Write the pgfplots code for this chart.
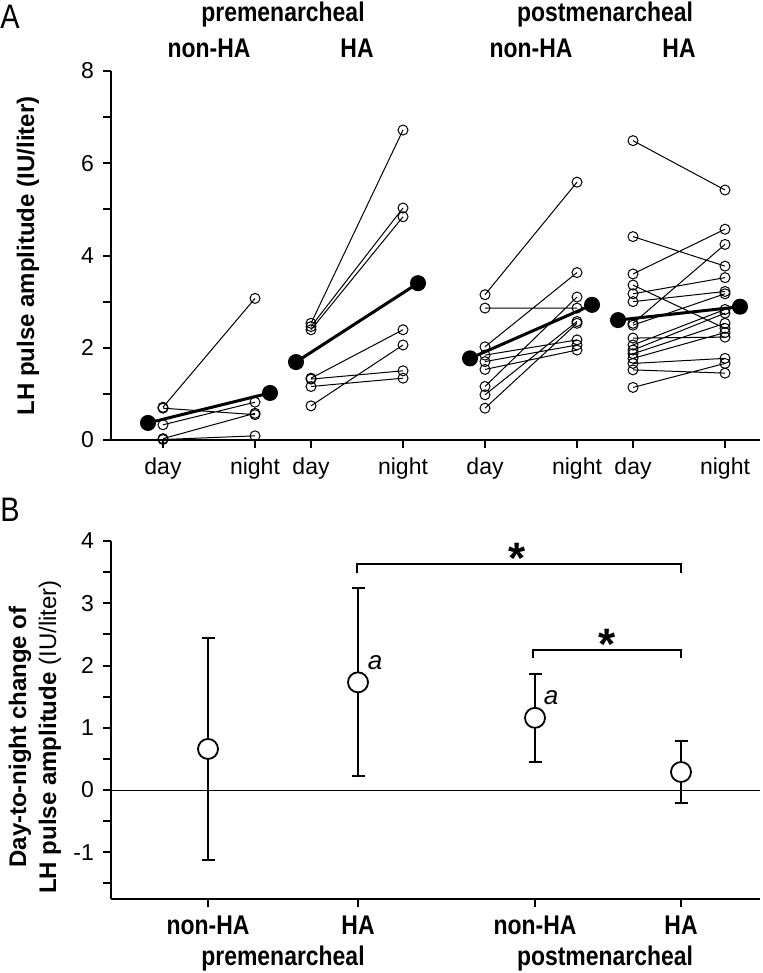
\documentclass[border=0pt]{standalone}
\usepackage{pgfplots}
\pgfplotsset{compat=1.18}
\usepackage{fontspec}
\setmainfont{Liberation Sans}
\newfontfamily\cond[FakeStretch=0.85]{Liberation Sans}

\pgfplotsset{
  panel/.style={
    scale only axis, width=324.5pt, clip=false,
    xmin=111, xmax=760,
    axis x line=bottom, axis y line=left,
    axis line style={-, line width=1pt},
    tick align=outside, major tick length=4pt,
    tick style={line width=1pt, black},
    tick label style={font=\fontsize{11.5}{13}\selectfont},
    yticklabel style={xshift=-1pt},
  },
  subj/.style={black, line width=0.5pt, mark=o, mark size=2.5pt,
    mark options={line width=0.5pt}},
  mean/.style={black, line width=1.5pt, mark=*, mark size=3.25pt},
}

\begin{document}
\begin{tikzpicture}
\begin{scope}[x=0.5pt,y=-0.5pt]
\path[use as bounding box] (0,0) rectangle (762,973);
\node[font=\cond\fontsize{17}{17}\selectfont] at (10,17) {A};
\node[font=\cond\fontsize{17}{17}\selectfont] at (10,510) {B};
\begin{scope}[every node/.style={font=\cond\bfseries\fontsize{13.5}{16}\selectfont}]
\node at (283,15) {premenarcheal};
\node at (605,15) {postmenarcheal};
\node at (209,48) {non-HA};
\node at (357,48) {HA};
\node at (531,48) {non-HA};
\node at (679,48) {HA};
\node at (283,959) {premenarcheal};
\node at (605,959) {postmenarcheal};
\end{scope}
\node[rotate=90, font=\bfseries\fontsize{12}{14}\selectfont] at (28,256) {LH pulse amplitude (IU/liter)};
\node[rotate=90, align=center, font=\bfseries\fontsize{12}{15}\selectfont] at (35,737)
  {Day-to-night change of\\LH pulse amplitude {\mdseries (IU/liter)}};
\end{scope}

% panel A
\begin{axis}[panel, at={(55.5pt,-220pt)}, anchor=south west, height=184.5pt,
  ymin=0, ymax=8, ytick={0,1,2,3,4,5,6,7,8}, yticklabels={0,,2,,4,,6,,8},
  xtick={163,255,311,403,485,577,633,725},
  xticklabels={day,night,day,night,day,night,day,night},
  xticklabel style={yshift=-1.5pt},
  unbounded coords=jump]
% premenarcheal non-HA
\addplot[subj] coordinates {
 (163,0.71) (255,3.07) (163,nan)
 (163,0.69) (255,0.55) (163,nan)
 (163,0.33) (255,0.82) (163,nan)
 (163,0.03) (255,0.58) (163,nan)
 (163,0.01) (255,0.09)};
% premenarcheal HA
\addplot[subj] coordinates {
 (311,2.53) (403,6.72) (311,nan)
 (311,2.46) (403,5.03) (311,nan)
 (311,2.39) (403,4.84) (311,nan)
 (311,1.34) (403,2.39) (311,nan)
 (311,1.32) (403,1.50) (311,nan)
 (311,1.16) (403,1.34) (311,nan)
 (311,0.74) (403,2.06)};
% postmenarcheal non-HA
\addplot[subj] coordinates {
 (485,3.15) (577,5.59) (485,nan)
 (485,2.86) (577,2.86) (485,nan)
 (485,2.02) (577,3.63) (485,nan)
 (485,1.84) (577,2.17) (485,nan)
 (485,1.70) (577,2.06) (485,nan)
 (485,1.53) (577,1.95) (485,nan)
 (485,1.16) (577,3.10) (485,nan)
 (485,0.98) (577,2.57) (485,nan)
 (485,0.69) (577,2.53)};
% postmenarcheal HA
\addplot[subj] coordinates {
 (633,6.49) (725,5.42) (633,nan)
 (633,4.41) (725,3.77) (633,nan)
 (633,3.60) (725,4.57) (633,nan)
 (633,3.36) (725,2.42) (633,nan)
 (633,3.17) (725,3.52) (633,nan)
 (633,3.00) (725,3.22) (633,nan)
 (633,2.53) (725,4.24) (633,nan)
 (633,2.49) (725,3.17) (633,nan)
 (633,2.21) (725,2.23) (633,nan)
 (633,2.06) (725,2.83) (633,nan)
 (633,1.95) (725,2.75) (633,nan)
 (633,1.87) (725,2.53) (633,nan)
 (633,1.77) (725,2.33) (633,nan)
 (633,1.66) (725,1.77) (633,nan)
 (633,1.52) (725,1.45) (633,nan)
 (633,1.14) (725,1.66)};
% group means
\addplot[mean] coordinates {(148,0.37) (270,1.02)};
\addplot[mean] coordinates {(296,1.69) (418,3.40)};
\addplot[mean] coordinates {(470,1.77) (592,2.93)};
\addplot[mean] coordinates {(618,2.60) (740,2.89)};
\end{axis}

% panel B
\begin{axis}[panel, at={(55.5pt,-449.5pt)}, anchor=south west, height=179pt,
  ymin=-1.75, ymax=4,
  ytick={-1.5,-1,-0.5,0,0.5,1,1.5,2,2.5,3,3.5,4},
  yticklabels={,-1,,0,,1,,2,,3,,4},
  xtick={208,358,535,681},
  xticklabels={non-HA,HA,non-HA,HA},
  xticklabel style={font=\cond\bfseries\fontsize{13.5}{16}\selectfont, yshift=-1pt}]
\draw[line width=0.5pt] (axis cs:111,0) -- (axis cs:760,0);
\draw[line width=0.6pt] (axis cs:357,3.48) -- (axis cs:357,3.63) -- (axis cs:681,3.63) -- (axis cs:681,3.48);
\draw[line width=0.6pt] (axis cs:533,2.12) -- (axis cs:533,2.25) -- (axis cs:681,2.25) -- (axis cs:681,2.12);
\node[anchor=base, font=\bfseries\fontsize{22}{22}\selectfont] at (axis cs:517,3.48) {*};
\node[anchor=base, font=\bfseries\fontsize{22}{22}\selectfont] at (axis cs:607,2.09) {*};
\node[anchor=base, font=\itshape\fontsize{13}{13}\selectfont] at (axis cs:375,1.93) {a};
\node[anchor=base, font=\itshape\fontsize{13}{13}\selectfont] at (axis cs:551,1.37) {a};
\addplot[black, only marks, mark=*, mark size=5pt,
  mark options={fill=white, line width=0.9pt},
  error bars/.cd, y dir=both, y explicit,
  error bar style={line width=0.9pt},
  error mark options={rotate=90, mark size=3.25pt, line width=0.9pt}]
  coordinates {
  (208,0.66) +- (0,1.78)
  (358,1.73) +- (0,1.51)
  (535,1.16) +- (0,0.71)
  (681,0.29) +- (0,0.50)};
\end{axis}
\end{tikzpicture}
\end{document}
